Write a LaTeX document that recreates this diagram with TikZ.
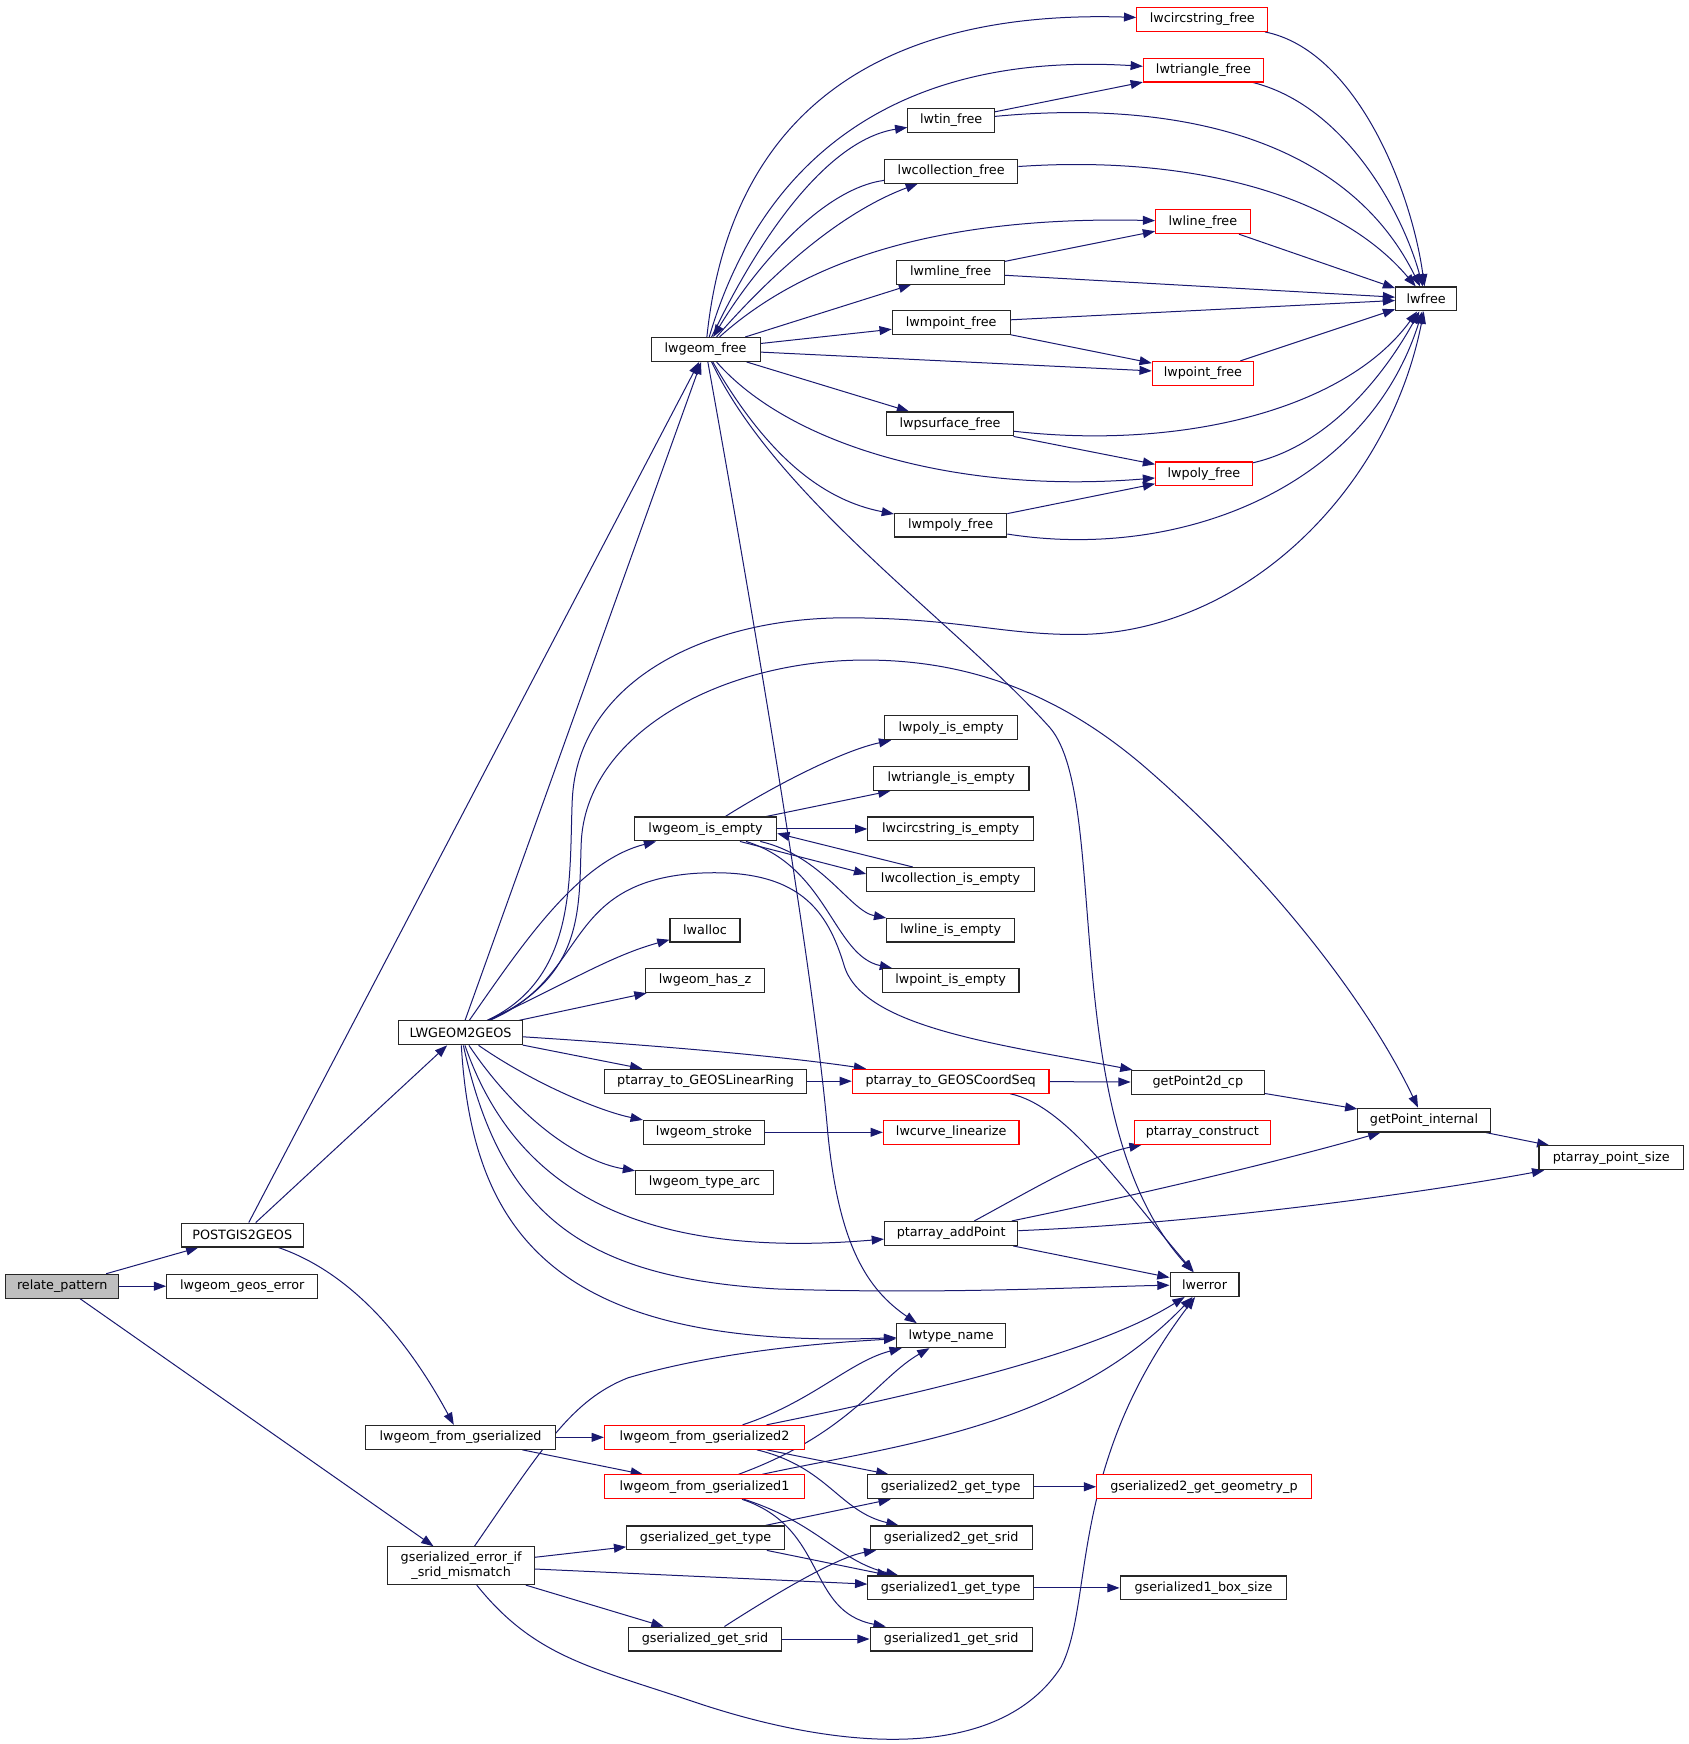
\documentclass[tikz,border=0pt]{standalone}
\usepackage{fontspec}
\setmainfont{DejaVu Sans}
\usetikzlibrary{arrows.meta,backgrounds}
\definecolor{edgecol}{HTML}{191970}
\definecolor{grayfill}{HTML}{BFBFBF}
\tikzset{
  nd/.style={draw=black!85, line width=1pt, fill=white, minimum height=21.5, inner sep=0pt, font=\fontsize{11.5}{13.5}\selectfont},
  rd/.style={nd, draw=red},
  ed/.style={draw=edgecol, line width=0.9pt, -{Triangle[length=11pt,width=8pt]}}
}
\begin{document}
\begin{tikzpicture}[x=1pt,y=-1pt]
\useasboundingbox (0,0) rectangle (1520,1569.5);
% nodes
\node[nd, fill=grayfill, minimum width=102] (rp) at (56,1157.5) {relate\_pattern};
\node[nd, minimum width=110] (pg) at (218,1111.5) {POSTGIS2GEOS};
\node[nd, minimum width=136] (lge) at (218,1157.5) {lwgeom\_geos\_error};
\node[nd, minimum width=98] (lf) at (635,314.5) {lwgeom\_free};
\node[nd, minimum width=111] (l2g) at (414.5,929.5) {LWGEOM2GEOS};
\node[nd, minimum width=171] (lfg) at (414.5,1293.5) {lwgeom\_from\_gserialized};
\node[nd, minimum width=132, minimum height=34, align=center] (gem) at (415,1409) {gserialized\_error\_if\\\_srid\_mismatch};
\node[rd, minimum width=118] (lcf) at (1082,17.5) {lwcircstring\_free};
\node[rd, minimum width=108] (ltrf) at (1083,63) {lwtriangle\_free};
\node[nd, minimum width=78] (ltinf) at (856,108.5) {lwtin\_free};
\node[nd, minimum width=120] (lcolf) at (856,154) {lwcollection\_free};
\node[rd, minimum width=85] (llf) at (1082.5,199.5) {lwline\_free};
\node[nd, minimum width=97] (lmlf) at (855.5,245) {lwmline\_free};
\node[nd, minimum width=106] (lmptf) at (856,290.5) {lwmpoint\_free};
\node[rd, minimum width=91] (lptf) at (1082.5,336) {lwpoint\_free};
\node[nd, minimum width=114] (lpsf) at (855,381.5) {lwpsurface\_free};
\node[rd, minimum width=87] (lpolf) at (1083.5,426.5) {lwpoly\_free};
\node[nd, minimum width=101] (lmpolf) at (855.5,472.5) {lwmpoly\_free};
\node[nd, minimum width=55] (lwf) at (1283.5,269) {lwfree};
\node[nd, minimum width=120] (lpie) at (856,655) {lwpoly\_is\_empty};
\node[nd, minimum width=140] (ltrie) at (856,700.5) {lwtriangle\_is\_empty};
\node[nd, minimum width=149] (lcie) at (855.5,746) {lwcircstring\_is\_empty};
\node[nd, minimum width=151] (lcolie) at (855.5,791.5) {lwcollection\_is\_empty};
\node[nd, minimum width=115] (llie) at (855.5,837) {lwline\_is\_empty};
\node[nd, minimum width=123] (lptie) at (855.5,882.5) {lwpoint\_is\_empty};
\node[nd, minimum width=128] (lgie) at (635,746) {lwgeom\_is\_empty};
\node[nd, minimum width=63] (lwa) at (634.5,837) {lwalloc};
\node[nd, minimum width=107] (lhz) at (634.5,882.5) {lwgeom\_has\_z};
\node[nd, minimum width=182] (ptlr) at (635,973) {ptarray\_to\_GEOSLinearRing};
\node[rd, minimum width=177] (ptcs) at (855.5,973) {ptarray\_to\_GEOSCoordSeq};
\node[nd, minimum width=109] (lst) at (633.5,1019) {lwgeom\_stroke};
\node[rd, minimum width=122] (lcl) at (856,1019) {lwcurve\_linearize};
\node[nd, minimum width=124] (lta) at (634,1064) {lwgeom\_type\_arc};
\node[nd, minimum width=120] (pap) at (856,1110) {ptarray\_addPoint};
\node[nd, minimum width=120] (gp2) at (1078,974) {getPoint2d\_cp};
\node[nd, minimum width=119] (gpi) at (1281.5,1008) {getPoint\_internal};
\node[nd, minimum width=130] (pps) at (1450,1042) {ptarray\_point\_size};
\node[rd, minimum width=122] (pc) at (1082,1019) {ptarray\_construct};
\node[nd, minimum width=62] (lwe) at (1084,1156) {lwerror};
\node[nd, minimum width=98] (ltn) at (856,1202) {lwtype\_name};
\node[rd, minimum width=180] (lfg2) at (634,1293.5) {lwgeom\_from\_gserialized2};
\node[rd, minimum width=180] (lfg1) at (634,1338) {lwgeom\_from\_gserialized1};
\node[nd, minimum width=149] (g2t) at (855.5,1338) {gserialized2\_get\_type};
\node[rd, minimum width=193] (g2gp) at (1083.5,1338) {gserialized2\_get\_geometry\_p};
\node[nd, minimum width=142] (ggt) at (635,1384) {gserialized\_get\_type};
\node[nd, minimum width=146] (g2s) at (856,1384) {gserialized2\_get\_srid};
\node[nd, minimum width=149] (g1t) at (855.5,1429) {gserialized1\_get\_type};
\node[nd, minimum width=150] (g1b) at (1083,1429) {gserialized1\_box\_size};
\node[nd, minimum width=137] (ggs) at (634.5,1475) {gserialized\_get\_srid};
\node[nd, minimum width=146] (g1s) at (856,1475) {gserialized1\_get\_srid};
% edges
\begin{pgfonlayer}{background}
\fill[white] (0,0) rectangle (1520,1569.5);
\draw[ed] (rp) -- (pg);
\draw[ed] (rp) -- (lge);
\draw[ed] (rp) -- (gem);
\draw[ed] (pg) -- (lf);
\draw[ed] (pg) -- (l2g);
\draw[ed] (pg) .. controls (330,1150) and (380,1230) .. (lfg);
\draw[ed] (lf) .. controls (655,120) and (770,8) .. (lcf);
\draw[ed] (lf) .. controls (680,160) and (790,45) .. (ltrf);
\draw[ed] (lf) .. controls (690,200) and (750,125) .. (ltinf);
\draw[ed] (lcolf) .. controls (740,170) and (680,240) .. (lf);
\draw[ed] (lf) .. controls (700,240) and (760,190) .. (lcolf);
\draw[ed] (lf) .. controls (740,220) and (880,195) .. (llf);
\draw[ed] (lf) -- (lmlf);
\draw[ed] (lf) -- (lmptf);
\draw[ed] (lf) -- (lptf);
\draw[ed] (lf) -- (lpsf);
\draw[ed] (lf) .. controls (710,400) and (860,445) .. (lpolf);
\draw[ed] (lf) .. controls (690,410) and (740,450) .. (lmpolf);
\draw[ed] (lf) .. controls (700,450) and (860,560) .. (945,655) .. controls (1000,720) and (950,1010) .. (lwe);
\draw[ed] (lf) .. controls (690,620) and (735,900) .. (745,1020) .. controls (755,1120) and (780,1160) .. ([xshift=-31pt]ltn.north);
\draw[ed] (lcf) .. controls (1220,45) and (1270,170) .. (lwf);
\draw[ed] (ltrf) .. controls (1210,95) and (1262,190) .. (lwf);
\draw[ed] (ltinf) .. controls (1050,90) and (1210,120) .. (lwf);
\draw[ed] (lcolf) .. controls (1060,140) and (1200,170) .. (lwf);
\draw[ed] (llf) -- (lwf);
\draw[ed] (lmlf) -- (lwf);
\draw[ed] (lmptf) -- (lwf);
\draw[ed] (lptf) -- (lwf);
\draw[ed] (lpsf) .. controls (1060,405) and (1210,370) .. (lwf);
\draw[ed] (lpolf) .. controls (1200,400) and (1250,330) .. (lwf);
\draw[ed] (lmpolf) .. controls (1060,505) and (1230,440) .. (lwf);
\draw[ed] (ltinf) -- (ltrf);
\draw[ed] (lmlf) -- (llf);
\draw[ed] (lmptf) -- (lptf);
\draw[ed] (lpsf) -- (lpolf);
\draw[ed] (lmpolf) -- (lpolf);
\draw[ed] (l2g) -- (lf);
\draw[ed] (l2g) .. controls (520,880) and (512,790) .. (515,720) .. controls (520,610) and (640,556) .. (761,556) .. controls (860,556) and (900,571) .. (968,571) .. controls (1120,571) and (1250,440) .. (lwf);
\draw[ed] (l2g) .. controls (525,880) and (521,820) .. (523,760) .. controls (526,660) and (650,594) .. (779,594) .. controls (880,594) and (960,630) .. (1030,690) .. controls (1140,785) and (1230,900) .. (gpi);
\draw[ed] (l2g) .. controls (470,850) and (520,775) .. (lgie);
\draw[ed] (l2g) .. controls (530,880) and (505,795) .. (625,786) .. controls (720,780) and (745,820) .. (760,870) .. controls (778,925) and (900,940) .. (gp2);
\draw[ed] (l2g) .. controls (510,885) and (550,860) .. (lwa);
\draw[ed] (l2g) -- (lhz);
\draw[ed] (l2g) -- (ptlr);
\draw[ed] (l2g) .. controls (580,940) and (700,950) .. (ptcs);
\draw[ed] (l2g) .. controls (480,975) and (540,1000) .. (lst);
\draw[ed] (l2g) .. controls (465,1005) and (520,1045) .. (lta);
\draw[ed] (l2g) .. controls (460,1060) and (560,1135) .. (pap);
\draw[ed] (l2g) .. controls (450,1090) and (520,1150) .. (700,1160) .. controls (850,1165) and (980,1158) .. (lwe);
\draw[ed] (l2g) .. controls (425,1110) and (500,1215) .. (ltn);
\draw[ed] (lgie) .. controls (700,705) and (760,675) .. (lpie);
\draw[ed] (lgie) -- (ltrie);
\draw[ed] (lgie) -- (lcie);
\draw[ed] (lgie.-20) -- ([yshift=5pt]lcolie.west);
\draw[ed] ([xshift=-34pt]lcolie.north) -- ([yshift=-4pt]lgie.east);
\draw[ed] (lgie) .. controls (740,770) and (765,820) .. (llie);
\draw[ed] (lgie) .. controls (745,780) and (750,860) .. (lptie);
\draw[ed] (ptlr) -- (ptcs);
\draw[ed] (ptcs) -- (gp2);
\draw[ed] (ptcs) .. controls (960,995) and (1010,1070) .. (lwe);
\draw[ed] (lst) -- (lcl);
\draw[ed] (gp2) -- (gpi);
\draw[ed] (gpi) -- (pps);
\draw[ed] (pap) .. controls (930,1070) and (980,1040) .. (pc);
\draw[ed] (pap) .. controls (1050,1070) and (1170,1040) .. (gpi);
\draw[ed] (pap) .. controls (1100,1100) and (1300,1070) .. (pps);
\draw[ed] (pap) -- (lwe);
\draw[ed] (lfg) -- (lfg2);
\draw[ed] (lfg) -- (lfg1);
\draw[ed] (lfg2) .. controls (730,1262) and (765,1225) .. (ltn);
\draw[ed] (lfg2) .. controls (850,1250) and (990,1215) .. (lwe);
\draw[ed] (lfg1) .. controls (765,1290) and (790,1240) .. (ltn);
\draw[ed] (lfg1) .. controls (810,1300) and (960,1285) .. (lwe);
\draw[ed] (lfg2) -- (g2t);
\draw[ed] (lfg2) .. controls (745,1320) and (755,1360) .. (g2s);
\draw[ed] (lfg1) .. controls (735,1370) and (755,1405) .. (g1t);
\draw[ed] (lfg1) .. controls (745,1375) and (725,1450) .. (g1s);
\draw[ed] (g2t) -- (g2gp);
\draw[ed] (g1t) -- (g1b);
\draw[ed] (gem) .. controls (490,1300) and (515,1260) .. (565,1240) .. controls (650,1215) and (750,1208) .. (ltn);
\draw[ed] (gem) -- (ggt);
\draw[ed] (gem) -- (g1t);
\draw[ed] (gem) -- (ggs);
\draw[ed] (gem) .. controls (480,1490) and (530,1500) .. (620,1530) .. controls (760,1578) and (900,1585) .. (955,1500) .. controls (985,1440) and (960,1320) .. (lwe);
\draw[ed] (ggt) -- (g2t);
\draw[ed] (ggt) -- (g1t);
\draw[ed] (ggs) .. controls (720,1420) and (760,1400) .. (g2s);
\draw[ed] (ggs) -- (g1s);
\end{pgfonlayer}
\end{tikzpicture}
\end{document}
